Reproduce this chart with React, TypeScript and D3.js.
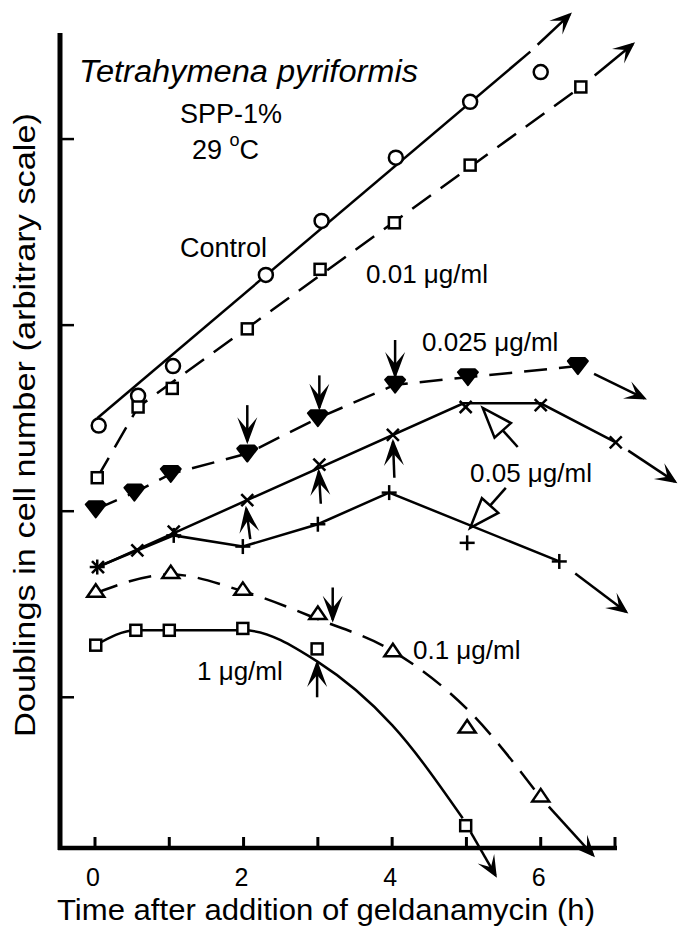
import React from 'react';
import * as d3 from 'd3';

const W = 678;
const H = 927;
const FONT = '"Liberation Sans", Arial, Helvetica, sans-serif';

// eixos
const xTicks = [0, 1, 2, 3, 4, 5, 6, 7];
const xTickLabels = [0, 2, 4, 6];
const yTicks = [1, 2, 3, 4];

// Control (circles, fitted line)
const controlT = [0.05, 0.58, 1.05, 2.3, 3.05, 4.05, 5.05, 6.0];
const controlV = [2.46, 2.62, 2.78, 3.27, 3.56, 3.9, 4.2, 4.36];
const controlLineT = [0.03, 5.86];
const controlLineV = [2.5, 4.47];
const controlArrow = [6.42, 4.68];

// 0.01 ug/ml (squares, dashed)
const c001T = [0.03, 0.58, 1.04, 2.05, 3.03, 4.03, 5.05, 6.54];
const c001V = [2.18, 2.56, 2.66, 2.98, 3.3, 3.55, 3.86, 4.28];
const c001LineT = [0.03, 0.58, 6.54];
const c001LineV = [2.18, 2.56, 4.28];
const c001Arrow = [7.27, 4.52];

// 0.025 ug/ml (filled triangles, dashed)
const c0025T = [0.01, 0.53, 1.02, 2.05, 3.0, 4.04, 5.02, 6.5];
const c0025V = [2.01, 2.1, 2.2, 2.31, 2.5, 2.68, 2.72, 2.78];
const c0025Arrow = [7.43, 2.6];
// down arrows: t, from v, to v
const c0025Marks = [
  [2.05, 2.57, 2.36],
  [3.02, 2.73, 2.54],
  [4.04, 2.92, 2.71],
];

// 0.05 ug/ml upper (x marks)
const c005xT = [0.04, 0.57, 1.06, 2.05, 3.02, 4.01, 4.99, 6.0, 7.01];
const c005xV = [1.7, 1.79, 1.89, 2.06, 2.25, 2.41, 2.56, 2.57, 2.37];
const c005xLineT = [0.04, 4.96, 6.0, 7.01];
const c005xLineV = [1.7, 2.58, 2.58, 2.37];
const c005xArrow = [7.84, 2.15];
// up arrows: tail t, tail v, tip t, tip v
const c005xMarks = [
  [2.09, 1.85, 2.03, 2.03],
  [3.04, 2.04, 3.01, 2.23],
  [4.03, 2.18, 4.01, 2.39],
];

// 0.05 ug/ml lower (+ marks)
const c005pT = [0.03, 1.06, 1.99, 3.0, 3.96, 5.01, 6.25];
const c005pV = [1.7, 1.87, 1.81, 1.93, 2.1, 1.83, 1.73];
const c005pLineT = [0.03, 1.06, 1.99, 3.0, 3.96, 6.25];
const c005pLineV = [1.7, 1.87, 1.81, 1.93, 2.1, 1.73];
const c005pArrow = [7.18, 1.45];

// hollow pointers from the 0.05 label: tip t, tip v, tail t, tail v
const c005Pointers = [
  [5.22, 2.555, 5.69, 2.345],
  [5.05, 1.91, 5.53, 2.125],
];

// 0.1 ug/ml (open triangles, dashed curve)
const c01T = [0.01, 1.02, 1.99, 3.0, 4.01, 5.01, 6.0];
const c01V = [1.57, 1.67, 1.58, 1.45, 1.25, 0.84, 0.47];
const c01LineT = [0.01, 1.02, 1.99, 3.0, 4.0, 5.0, 6.0];
const c01LineV = [1.56, 1.66, 1.57, 1.42, 1.25, 0.94, 0.46];
const c01Arrow = [6.73, 0.14];
const c01Mark = [3.2, 1.59, 1.4];

// 1 ug/ml (squares, solid curve)
const c1T = [0.01, 0.55, 1.0, 1.99, 2.99, 4.99];
const c1V = [1.28, 1.36, 1.36, 1.37, 1.26, 0.31];
const c1LineT = [0.01, 0.55, 1.0, 2.0, 3.0, 4.0, 4.95];
const c1LineV = [1.28, 1.36, 1.36, 1.36, 1.19, 0.85, 0.35];
const c1Arrow = [5.41, 0.03];
const c1Mark = [2.99, 1.0, 1.2];

const zip = (ts: number[], vs: number[]): [number, number][] => ts.map((t, i) => [t, vs[i]]);

const series = [
  { marker: 'circle', pts: zip(controlT, controlV), line: zip(controlLineT, controlLineV), dashed: false, curve: d3.curveLinear, arrow: controlArrow, gap: 10 },
  { marker: 'square', pts: zip(c001T, c001V), line: zip(c001LineT, c001LineV), dashed: true, curve: d3.curveLinear, arrow: c001Arrow, gap: 18 },
  { marker: 'triFilled', pts: zip(c0025T, c0025V), line: zip(c0025T, c0025V), dashed: true, curve: d3.curveLinear, arrow: c0025Arrow, gap: 18 },
  { marker: 'cross', pts: zip(c005xT, c005xV), line: zip(c005xLineT, c005xLineV), dashed: false, curve: d3.curveLinear, arrow: c005xArrow, gap: 15 },
  { marker: 'plus', pts: zip(c005pT, c005pV), line: zip(c005pLineT, c005pLineV), dashed: false, curve: d3.curveLinear, arrow: c005pArrow, gap: 20 },
  { marker: 'triOpen', pts: zip(c01T, c01V), line: zip(c01LineT, c01LineV), dashed: true, curve: d3.curveMonotoneX, arrow: c01Arrow, gap: 12 },
  { marker: 'square', pts: zip(c1T, c1V), line: zip(c1LineT, c1LineV), dashed: false, curve: d3.curveMonotoneX, arrow: c1Arrow, gap: 16 },
];

function Mark({ kind, cx, cy }: { kind: string; cx: number; cy: number }) {
  const st = { stroke: 'black', strokeWidth: 2.5 };
  if (kind === 'circle') return <circle cx={cx} cy={cy} r={7} fill="white" {...st} />;
  if (kind === 'square') return <rect x={cx - 5.5} y={cy - 5.5} width={11} height={11} fill="white" {...st} />;
  if (kind === 'triOpen')
    return <path d={`M${cx},${cy - 7}L${cx + 8.5},${cy + 5.5}L${cx - 8.5},${cy + 5.5}Z`} fill="white" {...st} strokeLinejoin="miter" />;
  if (kind === 'triFilled')
    return (
      <path
        d={`M${cx - 10},${cy - 5}L${cx - 7},${cy - 8}L${cx + 7},${cy - 8}L${cx + 10},${cy - 5}L${cx},${cy + 8}Z`}
        fill="black" stroke="black" strokeWidth={2} strokeLinejoin="round"
      />
    );
  if (kind === 'cross')
    return (
      <g {...st}>
        <line x1={cx - 6} y1={cy - 6} x2={cx + 6} y2={cy + 6} />
        <line x1={cx - 6} y1={cy + 6} x2={cx + 6} y2={cy - 6} />
      </g>
    );
  // plus
  return (
    <g {...st}>
      <line x1={cx - 7.5} y1={cy} x2={cx + 7.5} y2={cy} />
      <line x1={cx} y1={cy - 7.5} x2={cx} y2={cy + 7.5} />
    </g>
  );
}

export default function App() {
  const x = d3.scaleLinear().domain([0, 7]).range([95, 615]);
  const y = d3.scaleLinear().domain([0.19, 4.57]).range([848, 33]);
  const y0 = y(0.19);

  // seta entre dois pontos (em pixels), recuando um pouco do inicio
  const arrowLine = (p0: number[], p1: number[], gap: number, head: string, key: string) => {
    const dx = p1[0] - p0[0];
    const dy = p1[1] - p0[1];
    const len = Math.hypot(dx, dy);
    const ux = dx / len;
    const uy = dy / len;
    return (
      <line
        key={key}
        x1={p0[0] + ux * gap}
        y1={p0[1] + uy * gap}
        x2={p1[0] - ux * 3}
        y2={p1[1] - uy * 3}
        stroke="black"
        strokeWidth={2.5}
        markerEnd={`url(#${head})`}
      />
    );
  };

  const hollow = (d: number[], i: number) => {
    const tip = [x(d[0]), y(d[1])];
    const tail = [x(d[2]), y(d[3])];
    const dx = tail[0] - tip[0];
    const dy = tail[1] - tip[1];
    const len = Math.hypot(dx, dy);
    const ux = dx / len;
    const uy = dy / len;
    const bx = tip[0] + ux * 30;
    const by = tip[1] + uy * 30;
    const px = -uy * 11;
    const py = ux * 11;
    return (
      <g key={'hp' + i} stroke="black" strokeWidth={2.5} fill="white">
        <line x1={bx} y1={by} x2={tail[0]} y2={tail[1]} />
        <path d={`M${tip[0]},${tip[1]}L${bx + px},${by + py}L${bx - px},${by - py}Z`} strokeLinejoin="miter" />
      </g>
    );
  };

  return (
    <svg width={W} height={H} style={{ position: 'absolute', left: 0, top: 0, background: 'white' }} fontFamily={FONT}>
      <defs>
        <marker id="head" viewBox="-24 -11 28 22" refX={-3} refY={0} markerWidth={28} markerHeight={22} markerUnits="userSpaceOnUse" orient="auto">
          <path d="M0,0L-22,-9.5L-12,0L-22,9.5Z" fill="black" />
        </marker>
        <marker id="headBig" viewBox="-30 -12 34 24" refX={-3} refY={0} markerWidth={34} markerHeight={24} markerUnits="userSpaceOnUse" orient="auto">
          <path d="M0,0L-27,-10L-15,0L-27,10Z" fill="black" />
        </marker>
      </defs>
      <rect width={W} height={H} fill="white" />

      {/* eixos */}
      <line x1={60} y1={y(4.57)} x2={60} y2={y0 + 2} stroke="black" strokeWidth={5} />
      <line x1={58} y1={y0} x2={x(7) + 2} y2={y0} stroke="black" strokeWidth={4.5} />
      {xTicks.map((t) => (
        <line key={'xt' + t} x1={x(t)} x2={x(t)} y1={y0} y2={y0 - 11} stroke="black" strokeWidth={3} />
      ))}
      {yTicks.map((v) => (
        <line key={'yt' + v} x1={60} x2={74} y1={y(v)} y2={y(v)} stroke="black" strokeWidth={2.5} />
      ))}
      {xTickLabels.map((t) => (
        <text key={'xl' + t} x={x(t) - 2} y={886} fontSize={25} textAnchor="middle">
          {t}
        </text>
      ))}
      <text x={326} y={920} fontSize={30} textAnchor="middle" textLength={538} lengthAdjust="spacingAndGlyphs">
        Time after addition of geldanamycin (h)
      </text>
      <text transform="translate(35,425) rotate(-90)" fontSize={30} textAnchor="middle" textLength={624} lengthAdjust="spacingAndGlyphs">
        Doublings in cell number (arbitrary scale)
      </text>

      {/* linhas */}
      {series.map((s, i) => {
        const path = d3
          .line<[number, number]>()
          .x((d) => x(d[0]))
          .y((d) => y(d[1]))
          .curve(s.curve)(s.line);
        const last = s.line[s.line.length - 1];
        return (
          <g key={'s' + i}>
            <path d={path || ''} fill="none" stroke="black" strokeWidth={2.5} strokeDasharray={s.dashed ? '23 12' : undefined} />
            {arrowLine([x(last[0]), y(last[1])], [x(s.arrow[0]), y(s.arrow[1])], s.gap, 'head', 'ext' + i)}
          </g>
        );
      })}

      {/* setas verticais */}
      {c0025Marks.map((m, i) => arrowLine([x(m[0]), y(m[1])], [x(m[0]), y(m[2])], 0, 'headBig', 'dm' + i))}
      {c005xMarks.map((m, i) => arrowLine([x(m[0]), y(m[1])], [x(m[2]), y(m[3])], 0, 'headBig', 'um' + i))}
      {arrowLine([x(c01Mark[0]), y(c01Mark[1])], [x(c01Mark[0]), y(c01Mark[2])], 0, 'headBig', 'm01')}
      {arrowLine([x(c1Mark[0]), y(c1Mark[1])], [x(c1Mark[0]), y(c1Mark[2])], 0, 'headBig', 'm1')}
      {c005Pointers.map(hollow)}

      {/* bolinhas */}
      {series.map((s, i) => (
        <g key={'m' + i}>
          {s.pts.map((d, j) => (
            <Mark key={j} kind={s.marker} cx={x(d[0])} cy={y(d[1])} />
          ))}
        </g>
      ))}

      {/* textos */}
      <text x={79} y={82} fontSize={31} fontStyle="italic" textLength={339} lengthAdjust="spacingAndGlyphs">
        Tetrahymena pyriformis
      </text>
      <text x={231} y={123} fontSize={27} textAnchor="middle">
        SPP-1%
      </text>
      <text x={192} y={159} fontSize={27}>
        29 <tspan fontSize={18} dy={-13}>o</tspan>
        <tspan dy={13}>C</tspan>
      </text>
      <text x={180} y={257} fontSize={27}>
        Control
      </text>
      <text x={366} y={283} fontSize={26}>
        0.01 μg/ml
      </text>
      <text x={422} y={351} fontSize={26}>
        0.025 μg/ml
      </text>
      <text x={470} y={482} fontSize={26}>
        0.05 μg/ml
      </text>
      <text x={413} y={659} fontSize={26}>
        0.1 μg/ml
      </text>
      <text x={197} y={680} fontSize={26}>
        1 μg/ml
      </text>
    </svg>
  );
}
